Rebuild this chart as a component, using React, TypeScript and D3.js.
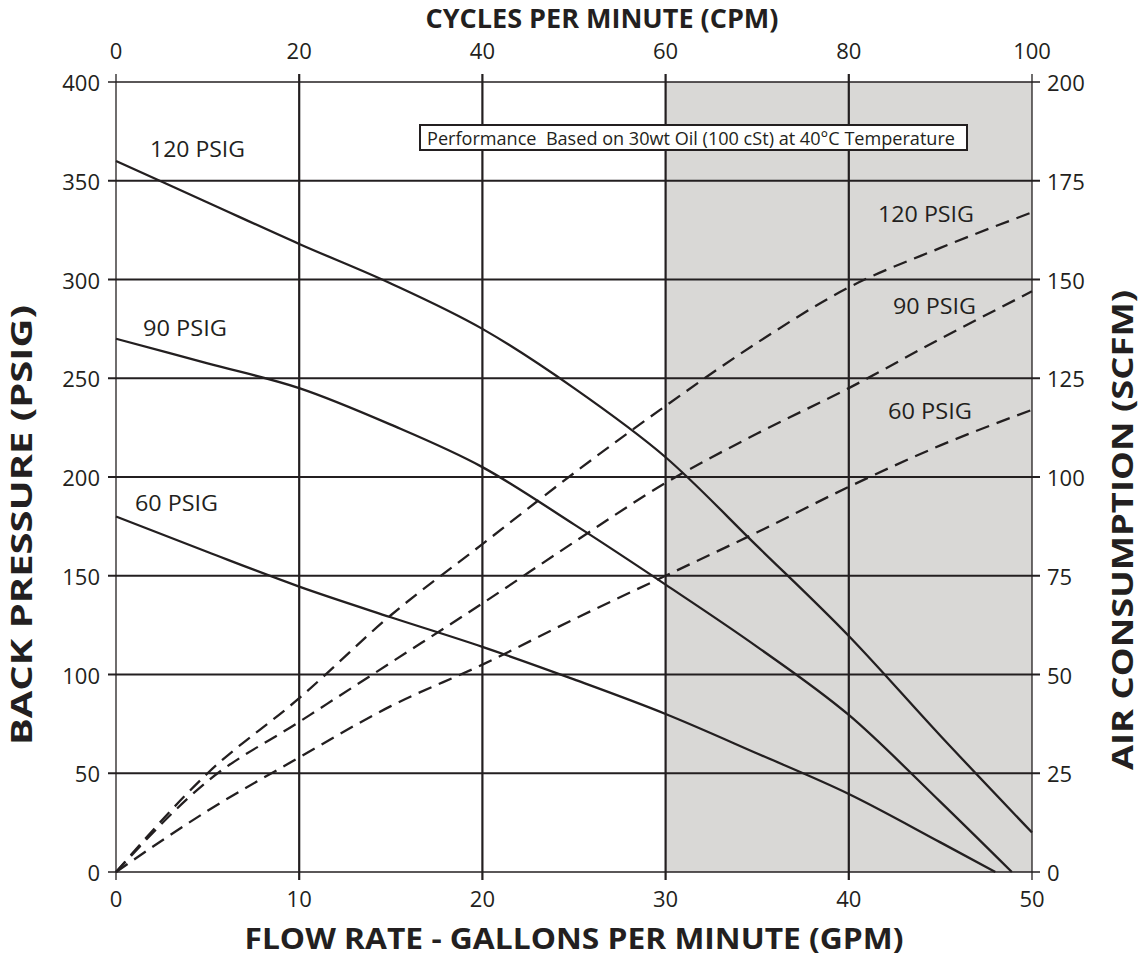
import React from "react";
import * as d3 from "d3";

const gpmTicks = [0, 10, 20, 30, 40, 50];
const cpmTicks = [0, 20, 40, 60, 80, 100];
const psiTicks = [0, 50, 100, 150, 200, 250, 300, 350, 400];
const scfmTicks = [0, 25, 50, 75, 100, 125, 150, 175, 200];

// Back pressure (PSIG) vs flow (GPM) — solid curves
const bp120X = [0, 5, 10, 15, 20, 25, 30, 35, 40, 45, 50];
const bp120Y = [360, 339, 318, 298, 275, 245, 210, 165, 119.5, 69, 20];
const bp90X = [0, 5, 10, 15, 20, 25, 30, 35, 40, 45, 48.9];
const bp90Y = [270, 257.5, 245, 226.5, 205, 176, 145.5, 114, 79.5, 35.5, 0];
const bp60X = [0, 5, 10, 15, 20, 25, 30, 35, 40, 45, 48];
const bp60Y = [180, 162, 144.5, 129, 114, 97.5, 80, 60, 39.5, 15, 0];

// Air consumption (SCFM) vs flow (GPM) — dashed curves
const airX = [0, 5, 10, 15, 20, 25, 30, 35, 40, 45, 50];
const air120 = [0, 25, 44, 65, 83, 101, 118, 134, 148, 158, 167];
const air90 = [0, 23, 38, 53, 68, 83.5, 98.5, 111, 122.5, 135, 147];
const air60 = [0, 15.5, 29, 42, 52.5, 64, 75, 86, 97.5, 108, 117];

const W = 1144;
const H = 962;
const L = 116, R = 1032, T = 82, B = 872;
const INK = "#231f20";
const FONT = "'Open Sans', sans-serif";

export default function App() {
  const x = d3.scaleLinear().domain([0, 50]).range([L, R]);
  const xTop = d3.scaleLinear().domain([0, 100]).range([L, R]);
  const y = d3.scaleLinear().domain([0, 400]).range([B, T]);
  const yR = d3.scaleLinear().domain([0, 200]).range([B, T]);

  const line = (xs: number[], ys: number[], ys2: (v: number) => number) =>
    d3
      .line<number>()
      .x((_, i) => x(xs[i]))
      .y((v) => ys2(v))
      .curve(d3.curveMonotoneX)(ys) as string;

  const solids = [
    line(bp120X, bp120Y, y),
    line(bp90X, bp90Y, y),
    line(bp60X, bp60Y, y),
  ];
  const dashed = [
    line(airX, air120, yR),
    line(airX, air90, yR),
    line(airX, air60, yR),
  ];

  const gridW = 2.2;
  const frameW = 1.3;

  return (
    <svg
      width={W}
      height={H}
      style={{ position: "absolute", left: 0, top: 0, background: "#fff" }}
      fontFamily={FONT}
    >
      <rect x={0} y={0} width={W} height={H} fill="#fff" />
      {/* shaded region */}
      <rect x={x(30)} y={y(400)} width={x(50) - x(30)} height={y(0) - y(400)} fill="#d9d8d6" />

      {/* grid */}
      {gpmTicks.filter((d) => d > 0 && d < 50).map((d) => (
        <line key={"gx" + d} x1={x(d)} x2={x(d)} y1={T - 8} y2={B + 8} stroke={INK} strokeWidth={gridW} />
      ))}
      {psiTicks.filter((d) => d > 0 && d < 400).map((d) => (
        <line key={"gy" + d} x1={L - 8} x2={R + 8} y1={y(d)} y2={y(d)} stroke={INK} strokeWidth={gridW} />
      ))}

      {/* frame */}
      <line x1={L} x2={L} y1={T - 8} y2={B + 8} stroke={INK} strokeWidth={frameW} />
      <line x1={R} x2={R} y1={T - 8} y2={B + 8} stroke={INK} strokeWidth={frameW} />
      <line x1={L - 8} x2={R + 8} y1={T} y2={T} stroke={INK} strokeWidth={frameW} />
      <line x1={L - 8} x2={R + 8} y1={B} y2={B} stroke={INK} strokeWidth={frameW} />

      {/* curves */}
      {solids.map((d, i) => (
        <path key={"s" + i} d={d} fill="none" stroke={INK} strokeWidth={2.3} />
      ))}
      {dashed.map((d, i) => (
        <path key={"d" + i} d={d} fill="none" stroke={INK} strokeWidth={2.3} strokeDasharray="14 8" />
      ))}

      {/* annotation box */}
      <rect x={420} y={125} width={547} height={25} fill="#fff" stroke={INK} strokeWidth={2} />
      <text x={427} y={138} fontSize={17.5} fill={INK} dominantBaseline="central" style={{ whiteSpace: "pre" }} textLength={528} lengthAdjust="spacingAndGlyphs">
        {"Performance  Based on 30wt Oil (100 cSt) at 40°C Temperature"}
      </text>

      {/* curve labels */}
      <g fontSize={22} fill={INK} dominantBaseline="central">
        <text x={150} y={148} textLength={95} lengthAdjust="spacingAndGlyphs">120 PSIG</text>
        <text x={143} y={327} textLength={84} lengthAdjust="spacingAndGlyphs">90 PSIG</text>
        <text x={135} y={502} textLength={83} lengthAdjust="spacingAndGlyphs">60 PSIG</text>
        <text x={878} y={213} textLength={96} lengthAdjust="spacingAndGlyphs">120 PSIG</text>
        <text x={893} y={305} textLength={83} lengthAdjust="spacingAndGlyphs">90 PSIG</text>
        <text x={888} y={410} textLength={84} lengthAdjust="spacingAndGlyphs">60 PSIG</text>
      </g>

      {/* tick labels */}
      <g fontSize={22} fill={INK}>
        {psiTicks.map((d) => (
          <text key={"l" + d} x={L - 16} y={y(d)} textAnchor="end" dominantBaseline="central">{d}</text>
        ))}
        {scfmTicks.map((d) => (
          <text key={"r" + d} x={R + 15} y={yR(d)} textAnchor="start" dominantBaseline="central">{d}</text>
        ))}
        {gpmTicks.map((d) => (
          <text key={"b" + d} x={x(d)} y={898} textAnchor="middle" dominantBaseline="central">{d}</text>
        ))}
        {cpmTicks.map((d) => (
          <text key={"t" + d} x={xTop(d)} y={50} textAnchor="middle" dominantBaseline="central">{d}</text>
        ))}
      </g>

      {/* axis titles */}
      <g fontSize={28} fontWeight={700} fill={INK}>
        <text x={602} y={18} textAnchor="middle" fontSize={26} dominantBaseline="central" textLength={353} lengthAdjust="spacingAndGlyphs">CYCLES PER MINUTE (CPM)</text>
        <text x={574} y={938} textAnchor="middle" dominantBaseline="central" textLength={659} lengthAdjust="spacingAndGlyphs">FLOW RATE - GALLONS PER MINUTE (GPM)</text>
        <text transform={`translate(21,525) rotate(-90)`} textAnchor="middle" dominantBaseline="central" textLength={440} lengthAdjust="spacingAndGlyphs">BACK PRESSURE (PSIG)</text>
        <text transform={`translate(1122,530) rotate(-90)`} textAnchor="middle" dominantBaseline="central" textLength={480} lengthAdjust="spacingAndGlyphs">AIR CONSUMPTION (SCFM)</text>
      </g>
    </svg>
  );
}
